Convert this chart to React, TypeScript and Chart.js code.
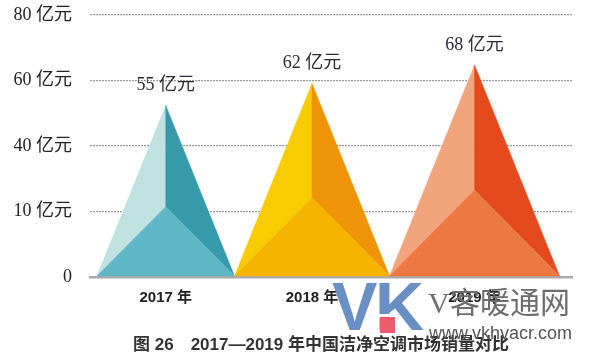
import { useEffect, useRef } from "react";
import { Chart, registerables } from "chart.js";

Chart.register(...registerables);

// ---- data ----
const categories = ["2017 年", "2018 年", "2019 年"];
const values = [55, 62, 68];
const valueLabels = ["55 亿元", "62 亿元", "68 亿元"];
const yTickLabels = ["0", "10 亿元", "40 亿元", "60 亿元", "80 亿元"];
const caption = "图 26\u30002017—2019 年中国洁净空调市场销量对比";

// ---- styles ----
const palette = [
  { light: "#bfe1e0", dark: "#379aaa", mid: "#5fb6c5" },
  { light: "#f8cc00", dark: "#ef9409", mid: "#f5b400" },
  { light: "#f2a47c", dark: "#e54a1e", mid: "#ee7841" },
];
const Y_MAX = 84;
const Y_STEP = 21;
const INNER = 0.41;
const SERIF = "'Liberation Serif', 'Noto Sans CJK SC', serif";
const SANS = "'Liberation Sans', 'Noto Sans CJK SC', sans-serif";

// pyramids sit side by side, base width proportional to value
const starts = values.map((_, i) => values.slice(0, i).reduce((a, b) => a + b, 0));
const centers = values.map((v, i) => starts[i] + v / 2);

const pyramidPlugin = {
  id: "pyramids",
  afterDatasetsDraw(chart: any) {
    const { ctx } = chart;
    const xs = chart.scales.x;
    const ys = chart.scales.y;
    const meta = chart.getDatasetMeta(0);
    meta.data.forEach((pt: any, i: number) => {
      const ax = pt.x;
      const ay = pt.y;
      const left = xs.getPixelForValue(starts[i]);
      const right = xs.getPixelForValue(starts[i] + values[i]);
      const baseY = ys.getPixelForValue(0) - 1;
      const innerY = ys.getPixelForValue(values[i] * INNER);
      const c = palette[i];
      const tri = (pts: number[][], color: string) => {
        ctx.beginPath();
        ctx.moveTo(pts[0][0], pts[0][1]);
        for (let k = 1; k < pts.length; k++) ctx.lineTo(pts[k][0], pts[k][1]);
        ctx.closePath();
        ctx.fillStyle = color;
        ctx.fill();
        ctx.strokeStyle = color;
        ctx.lineWidth = 0.5;
        ctx.stroke();
      };
      ctx.save();
      tri([[ax, ay], [left, baseY], [ax, innerY]], c.light);
      tri([[ax, ay], [ax, innerY], [right, baseY]], c.dark);
      tri([[left, baseY], [ax, innerY], [right, baseY]], c.mid);
      ctx.restore();
    });
    ctx.save();
    ctx.font = `18px ${SERIF}`;
    ctx.fillStyle = "#2b2b38";
    ctx.textAlign = "center";
    ctx.textBaseline = "middle";
    meta.data.forEach((pt: any, i: number) => {
      ctx.fillText(valueLabels[i], pt.x, pt.y - 20);
    });
    ctx.restore();
  },
  afterDraw(chart: any) {
    const { ctx } = chart;
    ctx.save();
    ctx.font = `bold 17px ${SANS}`;
    ctx.fillStyle = "#333";
    ctx.textAlign = "center";
    ctx.textBaseline = "middle";
    ctx.fillText(caption, 321, 345);

    // watermark
    ctx.textAlign = "left";
    ctx.textBaseline = "alphabetic";
    ctx.fillStyle = "#6a8fc4";
    ctx.font = `bold 68px ${SANS}`;
    ctx.fillText("V", 332, 330);
    ctx.fillText("K", 375, 330);
    ctx.fillStyle = "#ffffff";
    ctx.fillRect(379, 314, 17, 3);
    ctx.fillStyle = "#ec5c6c";
    ctx.fillRect(380, 317, 15, 16);
    ctx.fillStyle = "#6d6d6d";
    ctx.font = `30px 'Liberation Serif', serif`;
    ctx.fillText("V", 428, 313);
    ctx.font = `30px 'Noto Sans CJK SC', sans-serif`;
    ctx.fillText("客暖通网", 450, 313);
    ctx.fillStyle = "#555";
    ctx.font = `18px 'Liberation Sans', sans-serif`;
    ctx.fillText("www.vkhvacr.com", 429, 339);
    ctx.restore();
  },
};

export default function App() {
  const ref = useRef<HTMLCanvasElement | null>(null);
  useEffect(() => {
    if (!ref.current) return;
    const chart = new Chart(ref.current, {
      type: "line",
      data: {
        datasets: [
          {
            data: centers.map((c, i) => ({ x: c, y: values[i] })),
            showLine: false,
            pointRadius: 0,
            pointHoverRadius: 0,
          },
        ],
      },
      options: {
        animation: false,
        responsive: false,
        layout: { padding: { top: 15, right: 28, left: 0, bottom: 0 } },
        plugins: { legend: { display: false }, tooltip: { enabled: false } },
        scales: {
          x: {
            type: "linear",
            min: -2.8,
            max: 190,
            afterBuildTicks: (s: any) => {
              s.ticks = centers.map((v) => ({ value: v }));
            },
            afterFit: (s: any) => {
              s.height = 85;
            },
            grid: { display: false },
            border: { display: true, color: "#aaaaaa", width: 2.5 },
            ticks: {
              autoSkip: false,
              maxRotation: 0,
              padding: 4,
              color: "#222",
              font: { family: SANS, size: 15, weight: "bold" },
              callback: (_v: any, i: number) => categories[i],
            },
          },
          y: {
            type: "linear",
            min: 0,
            max: Y_MAX,
            afterFit: (s: any) => {
              s.width = 90;
            },
            grid: {
              drawTicks: true,
              tickLength: 18,
              tickColor: "rgba(0,0,0,0)",
              color: (c: any) => (c.tick && c.tick.value === 0 ? "rgba(0,0,0,0)" : "#9a9a9a"),
              lineWidth: 1.3,
            },
            border: { display: false, dash: [2, 1] },
            ticks: {
              stepSize: Y_STEP,
              padding: 0,
              color: "#222",
              font: { family: SERIF, size: 18 },
              callback: (_v: any, i: number) => yTickLabels[i],
            },
          },
        },
      },
      plugins: [pyramidPlugin],
    });
    return () => chart.destroy();
  }, []);
  return (
    <div style={{ position: "fixed", left: 0, top: 0, width: 600, height: 362, background: "#fff" }}>
      <canvas ref={ref} width={600} height={362} style={{ display: "block" }} />
    </div>
  );
}
